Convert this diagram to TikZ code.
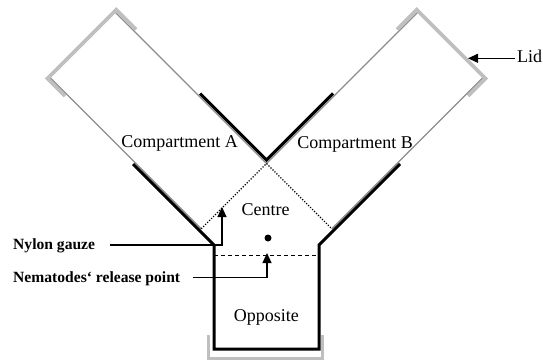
\documentclass[tikz,border=0pt]{standalone}
\usepackage{fontspec}
\setmainfont{Liberation Serif}
\usetikzlibrary{arrows.meta}
\begin{document}
\begin{tikzpicture}[x=1pt,y=-1pt,
  wallthin/.style={draw=black!45, line width=1.1pt},
  wallthick/.style={draw=black, line width=3pt, line join=miter},
  lidline/.style={draw=black!25, line width=3.8pt, line join=miter},
  lbl/.style={font=\fontsize{18}{20}\selectfont, inner sep=0pt},
  blbl/.style={font=\fontsize{15.6}{18}\selectfont\bfseries, inner sep=0pt},
  pointer/.style={draw=black, line width=1.1pt, -{Triangle[length=10pt,width=9pt]}},
  gauze/.style={draw=black, line width=1.2pt, dash pattern=on 1.2pt off 1.6pt},
]
\useasboundingbox (0,0) rectangle (543,362);
% thin gray walls
\draw[wallthin] (115.25,12.25) -- (266.5,163.5) -- (417.75,12.25);
\draw[wallthin] (50,77.5) -- (201.25,228.75);
\draw[wallthin] (483,77.5) -- (331.75,228.75);
% lids
\draw[lidline] (65,96) -- (47.5,78.5) -- (116.25,9.75) -- (136,29.5);
\draw[lidline] (468,96) -- (485.5,78.5) -- (416.75,9.75) -- (397,29.5);
% tray
\draw[lidline] (208.5,335) -- (208.5,358.5) -- (322.5,358.5) -- (322.5,335);
% black walls
\draw[wallthick] (200,93.5) -- (266.5,160) -- (333,93.5);
\draw[wallthick] (133,164) -- (214,245) -- (214,349) -- (319,349) -- (319,245) -- (400,164);
% gauze and release line
\draw[gauze] (201.25,228.75) -- (266.5,163.5) -- (331.75,228.75);
\draw[dash pattern=on 4pt off 3pt, line width=0.9pt] (214,255) -- (319,255);
\fill (268,238) circle (3.5pt);
% labels
\node[lbl, anchor=base] (compA) at (179.5,147) {Compartment A};
\node[lbl, anchor=base] (compB) at (355,148) {Compartment B};
\node[lbl, anchor=base] (centre) at (265.5,215) {Centre};
\node[lbl, anchor=base] (opp) at (266.3,321.5) {Opposite};
\node[lbl, anchor=base west] (lid) at (517,62.7) {Lid};
\node[blbl, anchor=base west] (nylon) at (13,249) {Nylon gauze};
\node[blbl, anchor=base west] (nema) at (13,282) {Nematodes‘ release point};
% pointers
\coordinate (ng0) at (110,245);
\coordinate (ngtip) at (222,207);
\coordinate (nr0) at (193,277.7);
\coordinate (nrtip) at (267,253);
\coordinate (lid0) at (515,58.3);
\coordinate (lidtip) at (468,58.3);
\draw[pointer] (ng0) -| (ngtip);
\draw[pointer] (nr0) -| (nrtip);
\draw[pointer] (lid0) -- (lidtip);
\end{tikzpicture}
\end{document}
